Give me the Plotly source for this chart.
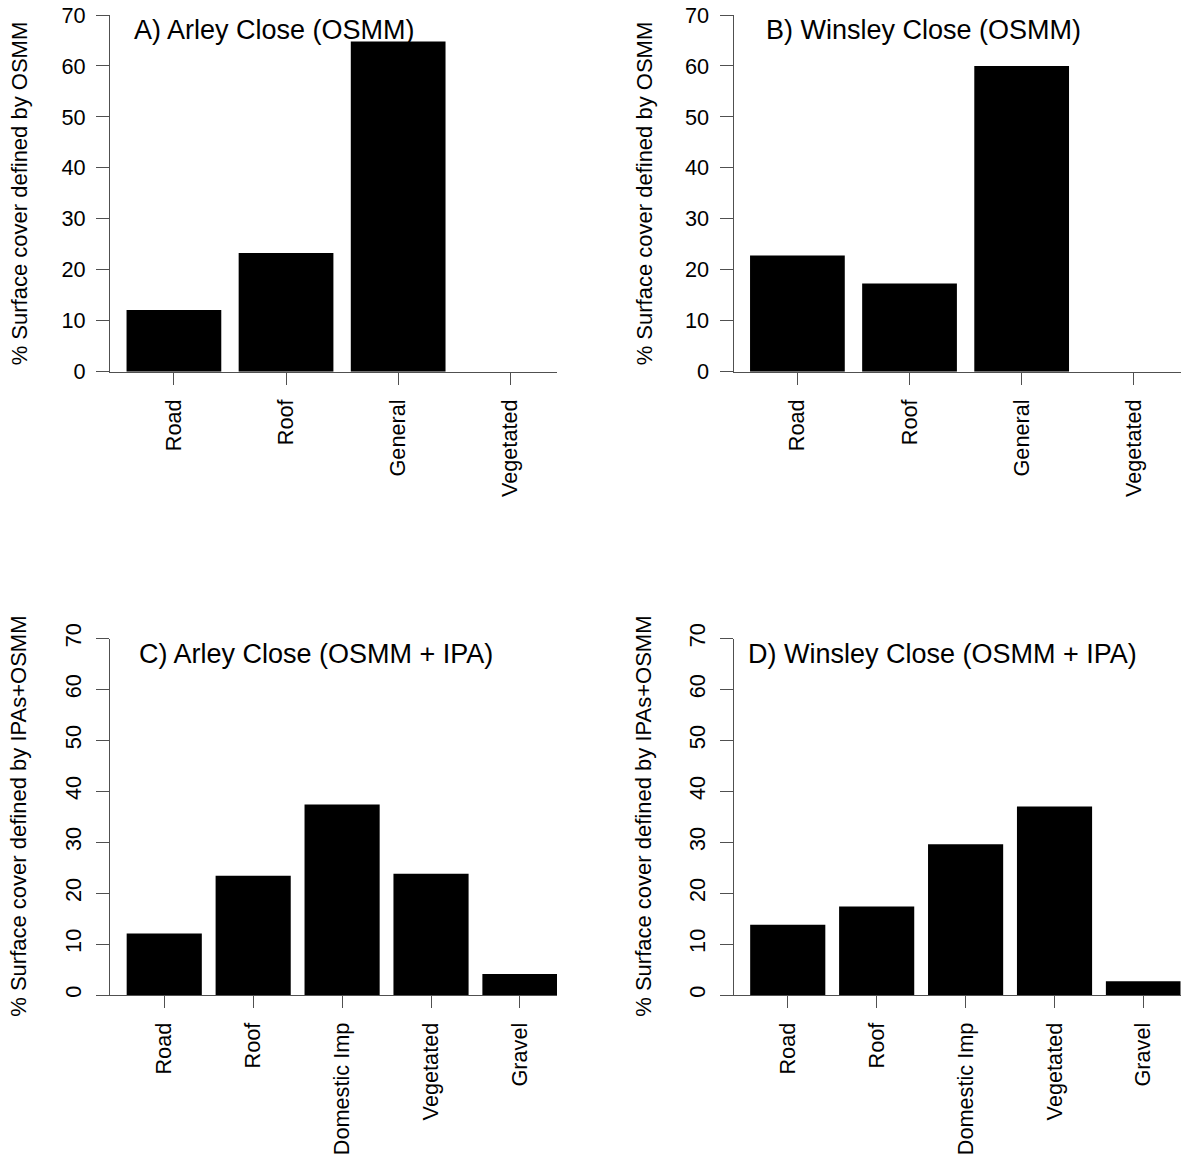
import plotly.graph_objects as go

# ---- data -------------------------------------------------------------
osmm_categories = ["Road", "Roof", "General", "Vegetated"]
arley_osmm = [12.1, 23.3, 64.8, 0.0]
winsley_osmm = [22.8, 17.3, 60.0, 0.0]

ipa_categories = ["Road", "Roof", "Domestic Imp", "Vegetated", "Gravel"]
arley_ipa = [12.1, 23.4, 37.4, 23.8, 4.1]
winsley_ipa = [13.8, 17.4, 29.6, 37.0, 2.7]

y_ticks = [0, 10, 20, 30, 40, 50, 60, 70]

panel_titles = [
    "A) Arley Close (OSMM)",
    "B) Winsley Close (OSMM)",
    "C) Arley Close (OSMM + IPA)",
    "D) Winsley Close (OSMM + IPA)",
]
y_title_osmm = "% Surface cover defined by OSMM"
y_title_ipa = "% Surface cover defined by IPAs+OSMM"

# ---- page geometry (pixels) ---------------------------------------------
W, H = 1187, 1157
FONT = "Liberation Sans, Arial, Helvetica, sans-serif"
AXIS_COLOR = "#505050"
TICK_SIZE = 21.7
LABEL_SIZE = 22


def px_x(v):
    return v / W


def px_y(v):
    return 1 - v / H


panels = [
    dict(cats=osmm_categories, vals=arley_osmm, x0=110, x1=557, top=15, bot=371.7,
         ytitle=y_title_osmm, ytitle_x=19, yangle=0, title_x=131.5, title_y=30),
    dict(cats=osmm_categories, vals=winsley_osmm, x0=733.5, x1=1180.5, top=15, bot=371.7,
         ytitle=y_title_osmm, ytitle_x=644, yangle=0, title_x=763.5, title_y=30),
    dict(cats=ipa_categories, vals=arley_ipa, x0=110, x1=557, top=638.5, bot=995,
         ytitle=y_title_ipa, ytitle_x=19, yangle=-90, title_x=137, title_y=653.5),
    dict(cats=ipa_categories, vals=winsley_ipa, x0=733.5, x1=1180.5, top=638.5, bot=995,
         ytitle=y_title_ipa, ytitle_x=644, yangle=-90, title_x=746, title_y=653.5),
]

fig = go.Figure()
layout = dict(
    width=W,
    height=H,
    margin=dict(l=0, r=0, t=0, b=0, autoexpand=False),
    paper_bgcolor="white",
    plot_bgcolor="white",
    showlegend=False,
    bargap=0.155,
    font=dict(family=FONT, color="black", size=TICK_SIZE),
    annotations=[],
)

for i, p in enumerate(panels, start=1):
    sfx = "" if i == 1 else str(i)
    fig.add_trace(
        go.Bar(
            x=p["cats"],
            y=p["vals"],
            xaxis="x" + sfx,
            yaxis="y" + sfx,
            marker=dict(color="black", line=dict(width=0)),
            hoverinfo="x+y",
        )
    )

    n = len(p["cats"])
    # bar-plot style extent: 4 % padding on the left, axis line ends at last bar
    x_left = (0.2 - 0.04 * (1.2 * n - 0.2) - 0.7) / 1.2
    x_right = (1.2 * n - 0.7) / 1.2

    layout["xaxis" + sfx] = dict(
        domain=[px_x(p["x0"]), px_x(p["x1"])],
        anchor="y" + sfx,
        type="category",
        range=[x_left, x_right],
        automargin=False,
        showline=True,
        linecolor=AXIS_COLOR,
        linewidth=1,
        ticks="outside",
        ticklen=12,
        tickwidth=1,
        tickcolor=AXIS_COLOR,
        tickangle=-90,
        ticklabelstandoff=6,
        tickfont=dict(family=FONT, size=TICK_SIZE, color="black"),
        showgrid=False,
        zeroline=False,
        fixedrange=True,
    )
    layout["yaxis" + sfx] = dict(
        domain=[px_y(p["bot"]), px_y(p["top"])],
        anchor="x" + sfx,
        range=[0, 70],
        tickvals=y_ticks,
        automargin=False,
        showline=True,
        linecolor=AXIS_COLOR,
        linewidth=1,
        ticks="outside",
        ticklen=13,
        tickwidth=1,
        tickcolor=AXIS_COLOR,
        tickangle=p["yangle"],
        ticklabelstandoff=6,
        tickfont=dict(family=FONT, size=TICK_SIZE, color="black"),
        showgrid=False,
        zeroline=False,
        fixedrange=True,
    )

    # panel heading inside the plotting area
    layout["annotations"].append(
        dict(
            text=panel_titles[i - 1],
            xref="paper", yref="paper",
            x=px_x(p["title_x"]), y=px_y(p["title_y"]),
            xanchor="left", yanchor="middle",
            showarrow=False,
            font=dict(family=FONT, size=27, color="black"),
        )
    )
    # vertical axis title
    layout["annotations"].append(
        dict(
            text=p["ytitle"],
            xref="paper", yref="paper",
            x=px_x(p["ytitle_x"]), y=px_y((p["top"] + p["bot"]) / 2),
            xanchor="center", yanchor="middle",
            textangle=-90,
            showarrow=False,
            font=dict(family=FONT, size=LABEL_SIZE, color="black"),
        )
    )

fig.update_layout(**layout)
fig.write_html("out.html")
